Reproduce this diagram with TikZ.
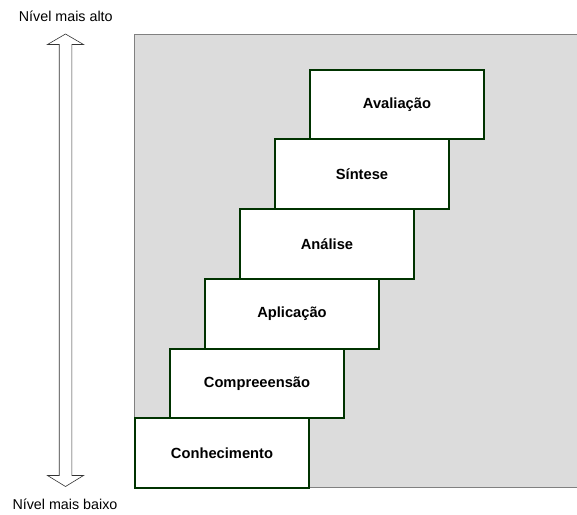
\documentclass[tikz,border=0pt]{standalone}
\usepackage{fontspec}
\setmainfont{Liberation Sans}
\definecolor{bggray}{HTML}{DCDCDC}
\definecolor{edgegray}{HTML}{808080}
\definecolor{boxgreen}{HTML}{003300}
\tikzset{
  stepbox/.style={draw=boxgreen, line width=2pt, fill=white, minimum width=174pt, minimum height=69.7pt, inner sep=0pt, font=\fontsize{14.7}{16}\selectfont\bfseries, anchor=north west},
  levellabel/.style={font=\fontsize{14.3}{16}\selectfont, inner sep=0pt}
}
\begin{document}
\begin{tikzpicture}[x=1pt,y=-1pt]
\useasboundingbox (0,0) rectangle (577,514);
\fill[white] (0,0) rectangle (577,514);
\draw[edgegray, fill=bggray, line width=1pt] (134,34) rectangle (578,487);
\node[stepbox] (n1) at (134,417.2) {Conhecimento};
\node[stepbox] (n2) at (169,347.5) {Compreeensão};
\node[stepbox] (n3) at (204,277.8) {Aplicação};
\node[stepbox] (n4) at (239,208.1) {Análise};
\node[stepbox] (n5) at (274,138.4) {Síntese};
\node[stepbox] (n6) at (309,68.7) {Avaliação};
\draw[black!80, line width=0.6pt, fill=white]
  (65.5,34) -- (83.5,44.5) -- (71.8,44.5) -- (71.8,475.5) -- (83.5,475.5)
  -- (65.5,486.5) -- (47.5,475.5) -- (59.2,475.5) -- (59.2,44.5) -- (47.5,44.5) -- cycle;
\node[levellabel, anchor=base] (top) at (65.8,21.7) {Nível mais alto};
\node[levellabel, anchor=base] (bot) at (65,509) {Nível mais baixo};
\end{tikzpicture}
\end{document}
